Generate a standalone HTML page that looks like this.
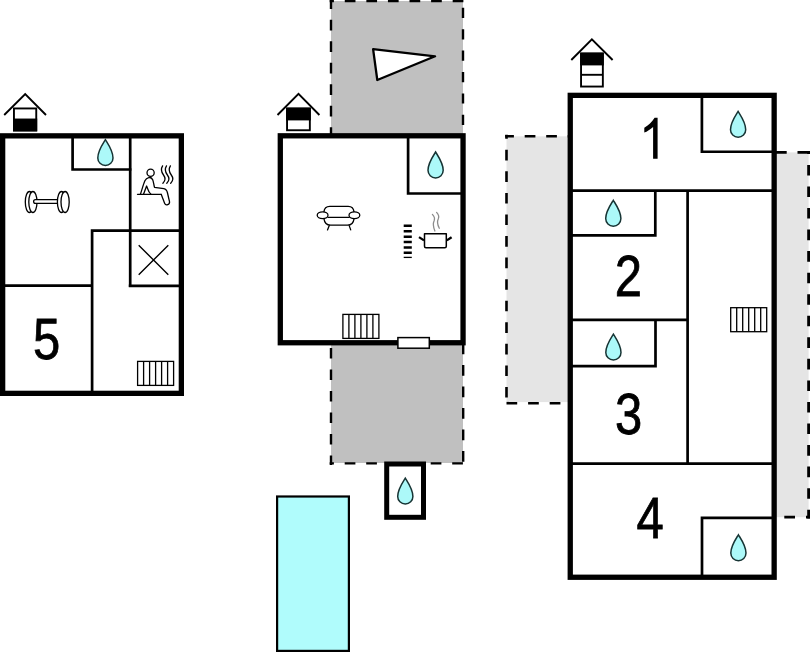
<!DOCTYPE html>
<html><head><meta charset="utf-8">
<style>
html,body{margin:0;padding:0;background:#fff;width:810px;height:652px;overflow:hidden}
svg{display:block}
text{font-family:"Liberation Sans",sans-serif;fill:#000}
</style></head><body>
<svg width="810" height="652" viewBox="0 0 810 652">


<!-- grey areas -->
<rect x="331" y="1" width="132" height="135" fill="#c0c0c0"/>
<rect x="331" y="343" width="132" height="120" fill="#c0c0c0"/>
<rect x="506.5" y="136.3" width="64" height="265.8" fill="#e5e5e5"/>
<rect x="774" y="152.4" width="34.6" height="364.8" fill="#e5e5e5"/>

<g fill="none" stroke="#000" stroke-width="2.4">
<!-- top grey -->
<line x1="331" y1="0" x2="331" y2="134" stroke-dasharray="10.6 10.9" stroke-dashoffset="1.7"/>
<line x1="329.7" y1="1.15" x2="464.5" y2="1.15" stroke-dasharray="10.7 10.88" stroke-dashoffset="6.5"/>
<line x1="463" y1="0" x2="463" y2="134" stroke-dasharray="10.2 11.2" stroke-dashoffset="13.6"/>
<!-- bottom grey -->
<line x1="331" y1="345" x2="331" y2="465" stroke-dasharray="10.5 11" stroke-dashoffset="18.5"/>
<line x1="329.7" y1="463.4" x2="464.5" y2="463.4" stroke-dasharray="10.7 10.8" stroke-dashoffset="6.5"/>
<line x1="463.2" y1="343" x2="463.2" y2="465" stroke-dasharray="10.8 10.7" stroke-dashoffset="21"/>
<!-- left light grey -->
<line x1="505.2" y1="136.3" x2="568" y2="136.3" stroke-dasharray="10.7 10.8" stroke-dashoffset="2" stroke-width="2.6"/>
<line x1="506.5" y1="134.8" x2="506.5" y2="404.5" stroke-dasharray="10.6 10.96" stroke-dashoffset="6.56" stroke-width="2.6"/>
<line x1="505.2" y1="403.2" x2="568" y2="403.2" stroke-dasharray="10.7 10.9" stroke-dashoffset="-1.3" stroke-width="2.6"/>
<!-- right light grey -->
<line x1="776" y1="152.4" x2="810" y2="152.4" stroke-dasharray="10.7 10.8" stroke-dashoffset="0" stroke-width="2.8"/>
<line x1="808.6" y1="151" x2="808.6" y2="518.6" stroke-dasharray="10.6 10.95" stroke-dashoffset="7.65" stroke-width="2.8"/>
<line x1="777" y1="517.2" x2="810" y2="517.2" stroke-dasharray="10.7 11" stroke-dashoffset="14.4" stroke-width="2.8"/>
</g>

<!-- pool -->
<rect x="277.1" y="496.5" width="71.8" height="154.4" fill="#b0fcfc" stroke="#000" stroke-width="2.2"/>

<!-- outer walls -->
<g fill="none" stroke="#000" stroke-width="5.3">
<rect x="2.65" y="135.85" width="178.7" height="257.5" fill="#fff"/>
<rect x="280.3" y="135.8" width="182.75" height="206.95" fill="#fff"/>
<rect x="570.25" y="95.35" width="203.9" height="481.9" fill="#fff"/>
<rect x="386.7" y="464" width="36.8" height="53.3" fill="#fff" stroke-width="5"/>
</g>

<!-- inner walls -->
<g fill="none" stroke="#000" stroke-width="2.7">
<path d="M72.6 135.85V169.5H131.4"/>
<path d="M130.2 135.85V287"/>
<path d="M92.1 393.35V230.6H181.35"/>
<path d="M2.65 285.7H92.1"/>
<path d="M128.8 285.8H181.35"/>

<path d="M408.1 135.95V193.5H463.05"/>

<path d="M701.9 95.85V151.75H774.25"/>
<path d="M570.25 190.6H774.25"/>
<path d="M655.3 190.6V235.3H570.25"/>
<path d="M687.6 190.6V463.6"/>
<path d="M570.25 319.8H687.6"/>
<path d="M655.5 319.8V366.1H570.25"/>
<path d="M570.25 463.6H774.25"/>
<path d="M702 576.95V517.9H774.25"/>
</g>

<!-- door -->
<rect x="397.9" y="337.6" width="31.4" height="10.6" fill="#fff" stroke="#000" stroke-width="1.5"/>

<!-- radiators -->
<g transform="translate(137.6 361.4)"><g fill="none" stroke="#000" stroke-width="1.3"><rect x="0" y="0" width="36" height="24" fill="#fff"/><path d="M6 0V24M12 0V24M18 0V24M24 0V24M30 0V24"/></g></g>
<g transform="translate(342.9 314.4)"><g fill="none" stroke="#000" stroke-width="1.3"><rect x="0" y="0" width="36" height="24" fill="#fff"/><path d="M6 0V24M12 0V24M18 0V24M24 0V24M30 0V24"/></g></g>
<g transform="translate(730.7 307.7)"><g fill="none" stroke="#000" stroke-width="1.3"><rect x="0" y="0" width="36" height="24" fill="#fff"/><path d="M6 0V24M12 0V24M18 0V24M24 0V24M30 0V24"/></g></g>

<!-- drops -->
<g transform="translate(105.4 138.8)"><path d="M0 0.8C2.3 4.6 7.6 11.8 7.6 19.1A7.6 7.6 0 0 1 -7.6 19.1C-7.6 11.8 -2.3 4.6 0 0.8Z" fill="#acf9f9" stroke="#173434" stroke-width="1.5"/></g>
<g transform="translate(435.6 151.2)"><path d="M0 0.8C2.3 4.6 7.6 11.8 7.6 19.1A7.6 7.6 0 0 1 -7.6 19.1C-7.6 11.8 -2.3 4.6 0 0.8Z" fill="#acf9f9" stroke="#173434" stroke-width="1.5"/></g>
<g transform="translate(405.3 477.3)"><path d="M0 0.8C2.3 4.6 7.6 11.8 7.6 19.1A7.6 7.6 0 0 1 -7.6 19.1C-7.6 11.8 -2.3 4.6 0 0.8Z" fill="#acf9f9" stroke="#173434" stroke-width="1.5"/></g>
<g transform="translate(738.1 110.6)"><path d="M0 0.8C2.3 4.6 7.6 11.8 7.6 19.1A7.6 7.6 0 0 1 -7.6 19.1C-7.6 11.8 -2.3 4.6 0 0.8Z" fill="#acf9f9" stroke="#173434" stroke-width="1.5"/></g>
<g transform="translate(613.3 199.5)"><path d="M0 0.8C2.3 4.6 7.6 11.8 7.6 19.1A7.6 7.6 0 0 1 -7.6 19.1C-7.6 11.8 -2.3 4.6 0 0.8Z" fill="#acf9f9" stroke="#173434" stroke-width="1.5"/></g>
<g transform="translate(613.4 333.3)"><path d="M0 0.8C2.3 4.6 7.6 11.8 7.6 19.1A7.6 7.6 0 0 1 -7.6 19.1C-7.6 11.8 -2.3 4.6 0 0.8Z" fill="#acf9f9" stroke="#173434" stroke-width="1.5"/></g>
<g transform="translate(738.4 534)"><path d="M0 0.8C2.3 4.6 7.6 11.8 7.6 19.1A7.6 7.6 0 0 1 -7.6 19.1C-7.6 11.8 -2.3 4.6 0 0.8Z" fill="#acf9f9" stroke="#173434" stroke-width="1.5"/></g>

<!-- house icons -->
<g fill="none" stroke="#000" stroke-width="1.9">
<polyline points="4.2,115 25.2,94.2 46,115"/>
<rect x="13.95" y="108.45" width="22.3" height="22" fill="#fff"/>
<rect x="13.95" y="119.5" width="22.3" height="10.95" fill="#000"/>

<polyline points="277.5,115 298.5,93.8 319.4,115"/>
<rect x="287.05" y="108.55" width="22.8" height="21.7" fill="#fff"/>
<rect x="287.05" y="108.55" width="22.8" height="10.9" fill="#000"/>

<polyline points="571.3,60 591.9,39.3 612.6,60"/>
<rect x="581.05" y="53.55" width="21.8" height="33" fill="#fff"/>
<rect x="581.05" y="53.55" width="21.8" height="10.9" fill="#000"/>
<line x1="581.05" y1="74.8" x2="602.85" y2="74.8"/>
</g>

<!-- triangle -->
<polygon points="373.1,49.1 435.1,56.3 377.3,80" fill="#fff" stroke="#000" stroke-width="2.3" stroke-linejoin="round"/>

<!-- X -->
<path d="M138.7 245.2L168.3 274.8M168.3 245.2L138.7 274.8" stroke="#000" stroke-width="1.4"/>

<!-- icons -->
<g fill="#fff" stroke="#000" stroke-width="1.3" stroke-linecap="round" stroke-linejoin="round">
<!-- dumbbell -->
<ellipse cx="29.4" cy="202" rx="4.1" ry="10.5"/>
<ellipse cx="32.9" cy="202" rx="4.1" ry="10.5"/>
<rect x="33.6" y="199.6" width="26" height="3.8" rx="1.9"/>
<ellipse cx="61.5" cy="202" rx="4.1" ry="10.5"/>
<ellipse cx="65.1" cy="202" rx="4.1" ry="10.5"/>
</g>
<g fill="none" stroke="#000" stroke-width="1.3" stroke-linecap="round" stroke-linejoin="round">
<!-- sauna -->
<circle cx="150.6" cy="172.7" r="3.6"/>
<path d="M137.5 194.3H161.2"/>
<path d="M140.5 194C142 189.5 143.3 184.5 144.9 180.8C146.5 177 151 176.3 152.6 179.6C153.6 182 153.8 185 154.5 187.3L163.8 188.7C166 189.1 167 190.6 167.5 193L169.5 201.6C170 204.6 165.8 206.2 164.6 203.2L161.2 194.3"/>
<path d="M143.6 194L146.6 186C147.8 188.5 148.3 192.3 150.8 194"/>
<path d="M162.6 165.9C160.6 169 161.2 172 163.5 175C165.8 178 165.2 181 162.9 183.2"/>
<path d="M166.5 165.9C164.5 169 165.1 172 167.4 175C169.7 178 169.1 181 166.8 183.2"/>
<path d="M170.4 165.9C168.4 169 169 172 171.3 175C173.6 178 173 181 170.7 183.2"/>
<!-- sofa -->
<path d="M323.9 211.9C324.3 208 326.5 206.3 329.8 206.3H348.2C351.5 206.3 353.6 208 354 211.9"/>
<ellipse cx="322.6" cy="215.3" rx="5.4" ry="3.4" fill="#fff"/>
<ellipse cx="354.4" cy="215.3" rx="5.4" ry="3.4" fill="#fff"/>
<path d="M328 217.4H349.2"/>
<path d="M324 218.9C324.5 222.8 326.8 225.2 330.5 225.2H347.5C351.2 225.2 353.5 222.8 354 218.9"/>
<path d="M329.3 225.6L327.5 229.9M349.2 225.6L350.7 229.9"/>
<!-- pot -->
<path d="M424.5 233.8H446.3V246.3Q446.3 247.8 444.8 247.8H426Q424.5 247.8 424.5 246.3Z" stroke-width="1.5"/>
<path d="M419 237.1L424 240.4M446.8 240.4L451.6 237.3" stroke-width="2.3" stroke-linecap="butt"/>
<path d="M432.4 214.4C434.4 216.5 435 218.5 434.2 220.5C433 223 432.8 226 434.9 231M436.6 212.4C438.6 214.5 439.2 216.5 438.4 218.5C437.2 221 437 224 439.3 228.2" stroke="#8c8c8c" stroke-width="1.3"/>
</g>
<!-- stairs -->
<g stroke="#000" stroke-width="2.4">
<path d="M403.7 225.8H411.8M403.7 231.3H411.8M403.7 236.8H411.8M403.7 242H411.8M403.7 247.5H411.8M403.7 252.7H411.8"/>
<path d="M403.7 257.4H411.8" stroke-width="1.3"/>
</g>
<!-- numbers -->
<g font-size="57.6" stroke="#000" stroke-width="0.8">
<text transform="translate(33 359.4) scale(0.85 1)">5</text>
<text transform="translate(614.8 296.1) scale(0.85 1)">2</text>
<text transform="translate(615 434) scale(0.85 1)">3</text>
<text transform="translate(636.6 537.6) scale(0.85 1)">4</text>
</g>
<path d="M653.1 158.7V126.9C650.2 129.6 647.2 131.3 644.3 132.6V127.7C648.4 125.6 652 122 654.6 117.8H657.6V158.7Z" fill="#000"/>
</svg>
</body></html>
